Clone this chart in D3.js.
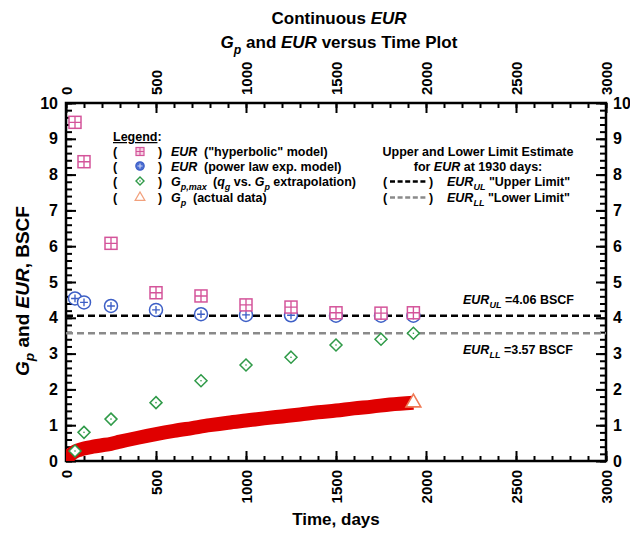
<!DOCTYPE html>
<html>
<head>
<meta charset="utf-8">
<script src="https://cdn.jsdelivr.net/npm/d3@7"></script>
<style>
  body { margin: 0; background: #fff; }
  text { font-family: "Liberation Sans", Arial, sans-serif; font-weight: bold; fill: #000; }
</style>
</head>
<body>
<svg id="chart" width="630" height="534"></svg>
<script>
// ---- data -------------------------------------------------------------
const timeTicks = [0, 500, 1000, 1500, 2000, 2500, 3000];
const eurTicks = [0, 1, 2, 3, 4, 5, 6, 7, 8, 9, 10];

// evaluation times of the EUR models (days)
const modelDays = [50, 100, 250, 500, 750, 1000, 1250, 1500, 1750, 1930];
const eurHyperbolic = [9.46, 8.36, 6.08, 4.70, 4.61, 4.36, 4.30, 4.14, 4.13, 4.14];
const eurPowerLaw = [4.54, 4.43, 4.33, 4.22, 4.10, 4.08, 4.07, 4.06, 4.06, 4.06];
const gpMax = [0.28, 0.80, 1.17, 1.63, 2.24, 2.68, 2.90, 3.24, 3.40, 3.57];

// cumulative production, actual data
const gpDays = [0, 10, 25, 50, 75, 100, 150, 200, 250, 300, 400, 500, 600, 700, 800, 900,
                1000, 1100, 1200, 1300, 1400, 1500, 1600, 1700, 1800, 1930];
const gpActual = [0, 0.08, 0.17, 0.26, 0.31, 0.35, 0.40, 0.44, 0.48, 0.54, 0.65, 0.75, 0.84,
                  0.92, 1.00, 1.07, 1.13, 1.19, 1.245, 1.30, 1.36, 1.41, 1.47, 1.52, 1.58, 1.63];

const eurUpper = 4.06;
const eurLower = 3.57;

// ---- layout -----------------------------------------------------------
const svg = d3.select("#chart");
const pL = 66, pR = 606, pT = 103, pB = 461;
const x = d3.scaleLinear().domain([0, 3000]).range([pL, pR]);
const y = d3.scaleLinear().domain([0, 10]).range([pB, pT]);

const pink = "#d4549a", blue = "#3d5fc6", green = "#2f9a48", red = "#e00000", orange = "#ef7a55";

// text with italic / subscript runs
function rich(textSel, parts) {
  let shift = 0;
  parts.forEach(p => {
    const ts = textSel.append("tspan").text(p.t);
    if (p.i) ts.style("font-style", "italic");
    if (p.sub) {
      ts.attr("font-size", p.fs || "72%");
      const d = p.d || 4;
      ts.attr("dy", d - shift);
      shift = d;
    } else if (shift) {
      ts.attr("dy", -shift);
      shift = 0;
    }
    if (p.u) ts.attr("text-decoration", "underline");
  });
  return textSel;
}

// ---- title ------------------------------------------------------------
rich(svg.append("text").attr("x", 339).attr("y", 24).attr("text-anchor", "middle").attr("font-size", 17),
  [{ t: "Continuous " }, { t: "EUR", i: true }]);
rich(svg.append("text").attr("x", 339).attr("y", 48).attr("text-anchor", "middle").attr("font-size", 17),
  [{ t: "G", i: true }, { t: "p", i: true, sub: true, d: 6 }, { t: " and " }, { t: "EUR", i: true }, { t: " versus Time Plot" }]);

// ---- axes -------------------------------------------------------------
function styleAxis(g) {
  g.select(".domain").remove();
  g.selectAll(".tick line").attr("stroke", "#000").attr("stroke-width", 2);
  g.selectAll("text").attr("font-size", 15).attr("fill", "#000");
}
const minorX = d3.range(0, 3001, 100);
const minorY = d3.range(0, 51).map(d => d / 5);

// bottom
svg.append("g").attr("transform", `translate(0,${pB})`)
  .call(d3.axisBottom(x).tickValues(minorX).tickSize(-5).tickFormat("")).call(styleAxis);
svg.append("g").attr("transform", `translate(0,${pB})`)
  .call(d3.axisBottom(x).tickValues(timeTicks).tickSize(-10).tickFormat(d3.format("d")))
  .call(styleAxis)
  .call(g => g.selectAll("text").attr("transform", "rotate(-90)")
    .attr("x", -9).attr("y", 0).attr("dy", "0.36em").attr("text-anchor", "end"));
// top
svg.append("g").attr("transform", `translate(0,${pT})`)
  .call(d3.axisTop(x).tickValues(minorX).tickSize(-5).tickFormat("")).call(styleAxis);
svg.append("g").attr("transform", `translate(0,${pT})`)
  .call(d3.axisTop(x).tickValues(timeTicks).tickSize(-10).tickFormat(d3.format("d")))
  .call(styleAxis)
  .call(g => g.selectAll("text").attr("transform", "rotate(-90)")
    .attr("x", 8).attr("y", 0).attr("dy", "0.36em").attr("text-anchor", "start"));
// left
svg.append("g").attr("transform", `translate(${pL},0)`)
  .call(d3.axisLeft(y).tickValues(minorY).tickSize(-6).tickFormat("")).call(styleAxis);
svg.append("g").attr("transform", `translate(${pL},0)`)
  .call(d3.axisLeft(y).tickValues(eurTicks).tickSize(-10).tickFormat(d3.format("d")))
  .call(styleAxis)
  .call(g => g.selectAll("text").attr("x", -8).attr("font-size", 16));
// right
svg.append("g").attr("transform", `translate(${pR},0)`)
  .call(d3.axisRight(y).tickValues(minorY).tickSize(-6).tickFormat("")).call(styleAxis);
svg.append("g").attr("transform", `translate(${pR},0)`)
  .call(d3.axisRight(y).tickValues(eurTicks).tickSize(-10).tickFormat(d3.format("d")))
  .call(styleAxis)
  .call(g => g.selectAll("text").attr("x", 7).attr("font-size", 16));

// frame
svg.append("rect").attr("x", pL).attr("y", pT).attr("width", pR - pL).attr("height", pB - pT)
  .attr("fill", "none").attr("stroke", "#000").attr("stroke-width", 2.5);

// axis titles
svg.append("text").attr("x", (pL + pR) / 2).attr("y", 525).attr("text-anchor", "middle")
  .attr("font-size", 17).text("Time, days");
rich(svg.append("text").attr("transform", `translate(29,291) rotate(-90)`)
  .attr("text-anchor", "middle").attr("font-size", 19),
  [{ t: "G", i: true }, { t: "p", i: true, sub: true, d: 5 }, { t: " and " }, { t: "EUR", i: true }, { t: ", BSCF" }]);

// ---- plot contents ----------------------------------------------------
svg.append("clipPath").attr("id", "plotClip")
  .append("rect").attr("x", pL).attr("y", pT).attr("width", pR - pL).attr("height", pB - pT);
const plot = svg.append("g").attr("clip-path", "url(#plotClip)");

// limit lines
plot.append("line").attr("x1", x(0)).attr("x2", x(3000)).attr("y1", y(eurUpper)).attr("y2", y(eurUpper))
  .attr("stroke", "#000").attr("stroke-width", 2.5).attr("stroke-dasharray", "7,4");
plot.append("line").attr("x1", x(0)).attr("x2", x(3000)).attr("y1", y(eurLower)).attr("y2", y(eurLower))
  .attr("stroke", "#8a8a8a").attr("stroke-width", 2.5).attr("stroke-dasharray", "7,4");

// actual production: the densely spaced triangles merge into a solid band
const gpPts = gpDays.map((d, i) => [d, gpActual[i]]);
plot.append("path").datum(gpPts)
  .attr("d", d3.line().x(d => x(d[0])).y(d => y(d[1])).curve(d3.curveMonotoneX))
  .attr("fill", "none").attr("stroke", red).attr("stroke-width", 14);
const tri = d3.symbol().type(d3.symbolTriangle).size(95);
const last = gpPts[gpPts.length - 1];
plot.append("path").attr("transform", `translate(${x(last[0])},${y(last[1])})`)
  .attr("d", tri).attr("fill", "#fff").attr("stroke", orange).attr("stroke-width", 1.6);

// marker shapes
function diamond(g, cx, cy, s, color, sw) {
  g.append("path").attr("d", `M${cx},${cy - s}L${cx + s},${cy}L${cx},${cy + s}L${cx - s},${cy}Z`)
    .attr("fill", "#fff").attr("stroke", color).attr("stroke-width", sw);
  g.append("circle").attr("cx", cx).attr("cy", cy).attr("r", 0.8).attr("fill", color);
}
function circlePlus(g, cx, cy, r, color, sw, fill, plusColor) {
  g.append("circle").attr("cx", cx).attr("cy", cy).attr("r", r)
    .attr("fill", fill || "#fff").attr("stroke", color).attr("stroke-width", sw);
  const a = r * 0.6;
  g.append("path").attr("d", `M${cx - a},${cy}H${cx + a}M${cx},${cy - a}V${cy + a}`)
    .attr("stroke", plusColor || color).attr("stroke-width", sw * 0.9);
}
function boxCross(g, cx, cy, h, color, sw, fill) {
  g.append("rect").attr("x", cx - h).attr("y", cy - h).attr("width", 2 * h).attr("height", 2 * h)
    .attr("fill", fill || "#fff").attr("stroke", color).attr("stroke-width", sw);
  g.append("path").attr("d", `M${cx - h},${cy}H${cx + h}M${cx},${cy - h}V${cy + h}`)
    .attr("stroke", color).attr("stroke-width", sw * 0.9);
}

modelDays.forEach((d, i) => diamond(plot, x(d), y(gpMax[i]), 6, green, 1.5));
modelDays.forEach((d, i) => circlePlus(plot, x(d), y(eurPowerLaw[i]), 6.5, blue, 1.5));
modelDays.forEach((d, i) => boxCross(plot, x(d), y(eurHyperbolic[i]), 6, pink, 1.5));

// limit value labels
const fmt = d3.format(".2f");
rich(svg.append("text").attr("x", 463).attr("y", 304).attr("font-size", 12.5),
  [{ t: "EUR", i: true }, { t: "UL", i: true, sub: true }, { t: " =" + fmt(eurUpper) + " BSCF" }]);
rich(svg.append("text").attr("x", 463).attr("y", 354).attr("font-size", 12.5),
  [{ t: "EUR", i: true }, { t: "LL", i: true, sub: true }, { t: " =" + fmt(eurLower) + " BSCF" }]);

// ---- legend -----------------------------------------------------------
const lg = svg.append("g");
const fs = 12.5;
rich(lg.append("text").attr("x", 113).attr("y", 141).attr("font-size", fs),
  [{ t: "Legend", u: true }, { t: ":" }]);
const rows = [156, 170.5, 185.5, 201.5];
rows.forEach(ry => {
  lg.append("text").attr("x", 113).attr("y", ry).attr("font-size", fs).text("(");
  lg.append("text").attr("x", 158).attr("y", ry).attr("font-size", fs).text(")");
});
boxCross(lg, 140, rows[0] - 4.5, 4, pink, 1.2, "#f6d3e4");
circlePlus(lg, 140, rows[1] - 4.5, 4.2, blue, 1.2, "#4a6cd2", "#cfd8f5");
diamond(lg, 140, rows[2] - 4.5, 4, green, 1.4);
lg.append("path").attr("transform", `translate(140,${rows[3] - 4})`)
  .attr("d", d3.symbol().type(d3.symbolTriangle).size(40)).attr("fill", "#fff")
  .attr("stroke", "#f2a07c").attr("stroke-width", 1.3);

rich(lg.append("text").attr("x", 171).attr("y", rows[0]).attr("font-size", fs), [{ t: "EUR", i: true }]);
lg.append("text").attr("x", 204).attr("y", rows[0]).attr("font-size", fs).text("(\"hyperbolic\" model)");
rich(lg.append("text").attr("x", 171).attr("y", rows[1]).attr("font-size", fs), [{ t: "EUR", i: true }]);
lg.append("text").attr("x", 204).attr("y", rows[1]).attr("font-size", fs).text("(power law exp. model)");
rich(lg.append("text").attr("x", 171).attr("y", rows[2]).attr("font-size", fs),
  [{ t: "G", i: true }, { t: "p,max", i: true, sub: true }]);
rich(lg.append("text").attr("x", 213).attr("y", rows[2]).attr("font-size", fs),
  [{ t: "(" }, { t: "q", i: true }, { t: "g", i: true, sub: true }, { t: " vs. " }, { t: "G", i: true },
   { t: "p", i: true, sub: true }, { t: " extrapolation)" }]);
rich(lg.append("text").attr("x", 171).attr("y", rows[3]).attr("font-size", fs),
  [{ t: "G", i: true }, { t: "p", i: true, sub: true }]);
lg.append("text").attr("x", 193).attr("y", rows[3]).attr("font-size", fs).text("(actual data)");

// ---- limit estimate box -------------------------------------------------
const lb = svg.append("g");
lb.append("text").attr("x", 478).attr("y", 156).attr("text-anchor", "middle").attr("font-size", fs)
  .text("Upper and Lower Limit Estimate");
rich(lb.append("text").attr("x", 478).attr("y", 171).attr("text-anchor", "middle").attr("font-size", fs),
  [{ t: "for " }, { t: "EUR", i: true }, { t: " at 1930 days:" }]);
[[186, "#000", "UL", "\"Upper Limit\""], [202, "#8a8a8a", "LL", "\"Lower Limit\""]].forEach(([ry, col, sub, lab]) => {
  lb.append("text").attr("x", 383).attr("y", ry).attr("font-size", fs).text("(");
  lb.append("line").attr("x1", 390).attr("x2", 428).attr("y1", ry - 4.5).attr("y2", ry - 4.5)
    .attr("stroke", col).attr("stroke-width", 2.5).attr("stroke-dasharray", "5,2.6");
  lb.append("text").attr("x", 429).attr("y", ry).attr("font-size", fs).text(")");
  rich(lb.append("text").attr("x", 447).attr("y", ry).attr("font-size", fs),
    [{ t: "EUR", i: true }, { t: sub, i: true, sub: true }, { t: " " + lab }]);
});
</script>
</body>
</html>
